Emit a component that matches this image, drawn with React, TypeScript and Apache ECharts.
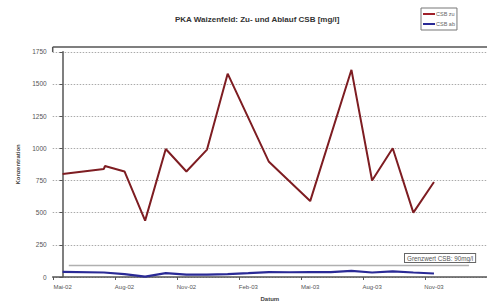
import React, { useEffect, useRef } from "react";
import * as echarts from "echarts";

// months counted from Mai-02 (0)
const zuMonths = [0, 2, 2.05, 3, 4, 5, 6, 7, 8, 10, 12, 14, 15, 16, 17, 18];
const zuValues = [800, 840, 862, 820, 438, 995, 820, 990, 1580, 895, 590, 1610, 750, 1000, 500, 738];

const abMonths = [0, 2, 3, 4, 5, 6, 7, 8, 9, 10, 11, 12, 13, 14, 15, 16, 17, 18];
const abValues = [40, 35, 23, 3, 30, 18, 18, 23, 30, 38, 37, 38, 38, 47, 35, 44, 35, 27];

const limitMonths = [0.3, 19.7];
const limitValues = [90, 90];

const tickMonths = [0, 3, 6, 9, 12, 15, 18];
const tickLabels = ["Mai-02", "Aug-02", "Nov-02", "Feb-03", "Mai-03", "Aug-03", "Nov-03"];

const yTicks = [0, 250, 500, 750, 1000, 1250, 1500, 1750];

const FONT = "Liberation Sans, Arial, sans-serif";

export default function App() {
  const ref = useRef<HTMLDivElement>(null);
  useEffect(() => {
    document.body.style.margin = "0";
    if (!ref.current) return;
    const chart = echarts.init(ref.current, null, { renderer: "svg" });
    const zip = (xs: number[], ys: number[]) => xs.map((x, i) => [x, ys[i]]);
    chart.setOption({
      animation: false,
      backgroundColor: "#ffffff",
      title: {
        text: "PKA Waizenfeld: Zu- und Ablauf CSB [mg/l]",
        left: 170,
        top: 10,
        textStyle: { fontFamily: FONT, fontSize: 8, fontWeight: "bold", color: "#333" },
      },
      legend: {
        orient: "vertical",
        left: 421,
        top: 8,
        padding: [3, 2, 3, 2],
        itemGap: 4,
        itemWidth: 12,
        itemHeight: 2,
        icon: "rect",
        borderColor: "#777",
        borderWidth: 1,
        data: ["CSB zu", "CSB ab"],
        textStyle: { fontFamily: FONT, fontSize: 5.5, color: "#666", padding: [0, 0, 0, -4] },
      },
      grid: { left: 52.7, right: -5, top: 51.8, bottom: 27.7 },
      xAxis: {
        type: "value",
        min: -0.48,
        max: 20.57,
        name: "Datum",
        nameLocation: "middle",
        nameGap: 19,
        nameTextStyle: { fontFamily: FONT, fontSize: 6, fontWeight: "bold", color: "#444" },
        axisLine: { show: true, lineStyle: { color: "#555", width: 1.5 } },
        axisTick: {
          show: true,
          length: 3,
          customValues: tickMonths.map((m) => m - 0.43),
          lineStyle: { color: "#555" },
        },
        axisLabel: {
          customValues: tickMonths,
          margin: 7,
          fontFamily: FONT,
          fontSize: 6,
          color: "#555",
          formatter: (v: number) => {
            const i = tickMonths.indexOf(Math.round(v));
            return i >= 0 ? tickLabels[i] : "";
          },
        },
        splitLine: { show: false },
      },
      yAxis: {
        type: "value",
        min: 0,
        max: 1750,
        interval: 250,
        name: "Konzentration",
        nameLocation: "middle",
        nameRotate: 90,
        nameGap: 26,
        nameTextStyle: { fontFamily: FONT, fontSize: 6, fontWeight: "bold", color: "#444" },
        axisLine: { show: true, lineStyle: { color: "#555", width: 1.5 } },
        axisTick: { show: true, length: 3, lineStyle: { color: "#555" } },
        axisLabel: {
          margin: 6,
          fontFamily: FONT,
          fontSize: 6.5,
          color: "#555",
          formatter: (v: number) => (yTicks.includes(v) ? String(v) : ""),
        },
        splitLine: { show: true, lineStyle: { color: "#aaa", type: [1.5, 1.5], width: 1 } },
      },
      graphic: [
        {
          type: "line",
          shape: { x1: 52.7, y1: 47, x2: 490, y2: 47 },
          style: { stroke: "#555", lineWidth: 1.5 },
        },
        {
          type: "line",
          shape: { x1: 52.7, y1: 47, x2: 52.7, y2: 52 },
          style: { stroke: "#555", lineWidth: 1.5 },
        },
        {
          type: "text",
          left: 404,
          top: 253,
          style: {
            text: "Grenzwert CSB: 90mg/l",
            fontFamily: FONT,
            fontSize: 6.3,
            fill: "#555",
            backgroundColor: "#fff",
            borderColor: "#666",
            borderWidth: 1,
            padding: [1, 2, 1, 2],
          },
        },
      ],
      series: [
        {
          name: "CSB zu",
          type: "line",
          data: zip(zuMonths, zuValues),
          showSymbol: false,
          lineStyle: { color: "#7e1d22", width: 2 },
          itemStyle: { color: "#a0202a" },
          z: 3,
        },
        {
          name: "CSB ab",
          type: "line",
          data: zip(abMonths, abValues),
          showSymbol: false,
          lineStyle: { color: "#2a2a96", width: 2.2 },
          itemStyle: { color: "#2a2a96" },
          z: 3,
        },
        {
          name: "Grenzwert",
          type: "line",
          data: zip(limitMonths, limitValues),
          showSymbol: false,
          lineStyle: { color: "#b0b0b0", width: 1.5 },
          itemStyle: { color: "#b0b0b0" },
          z: 2,
        },
      ],
    });
    return () => chart.dispose();
  }, []);
  return <div ref={ref} style={{ width: 487, height: 307 }} />;
}
